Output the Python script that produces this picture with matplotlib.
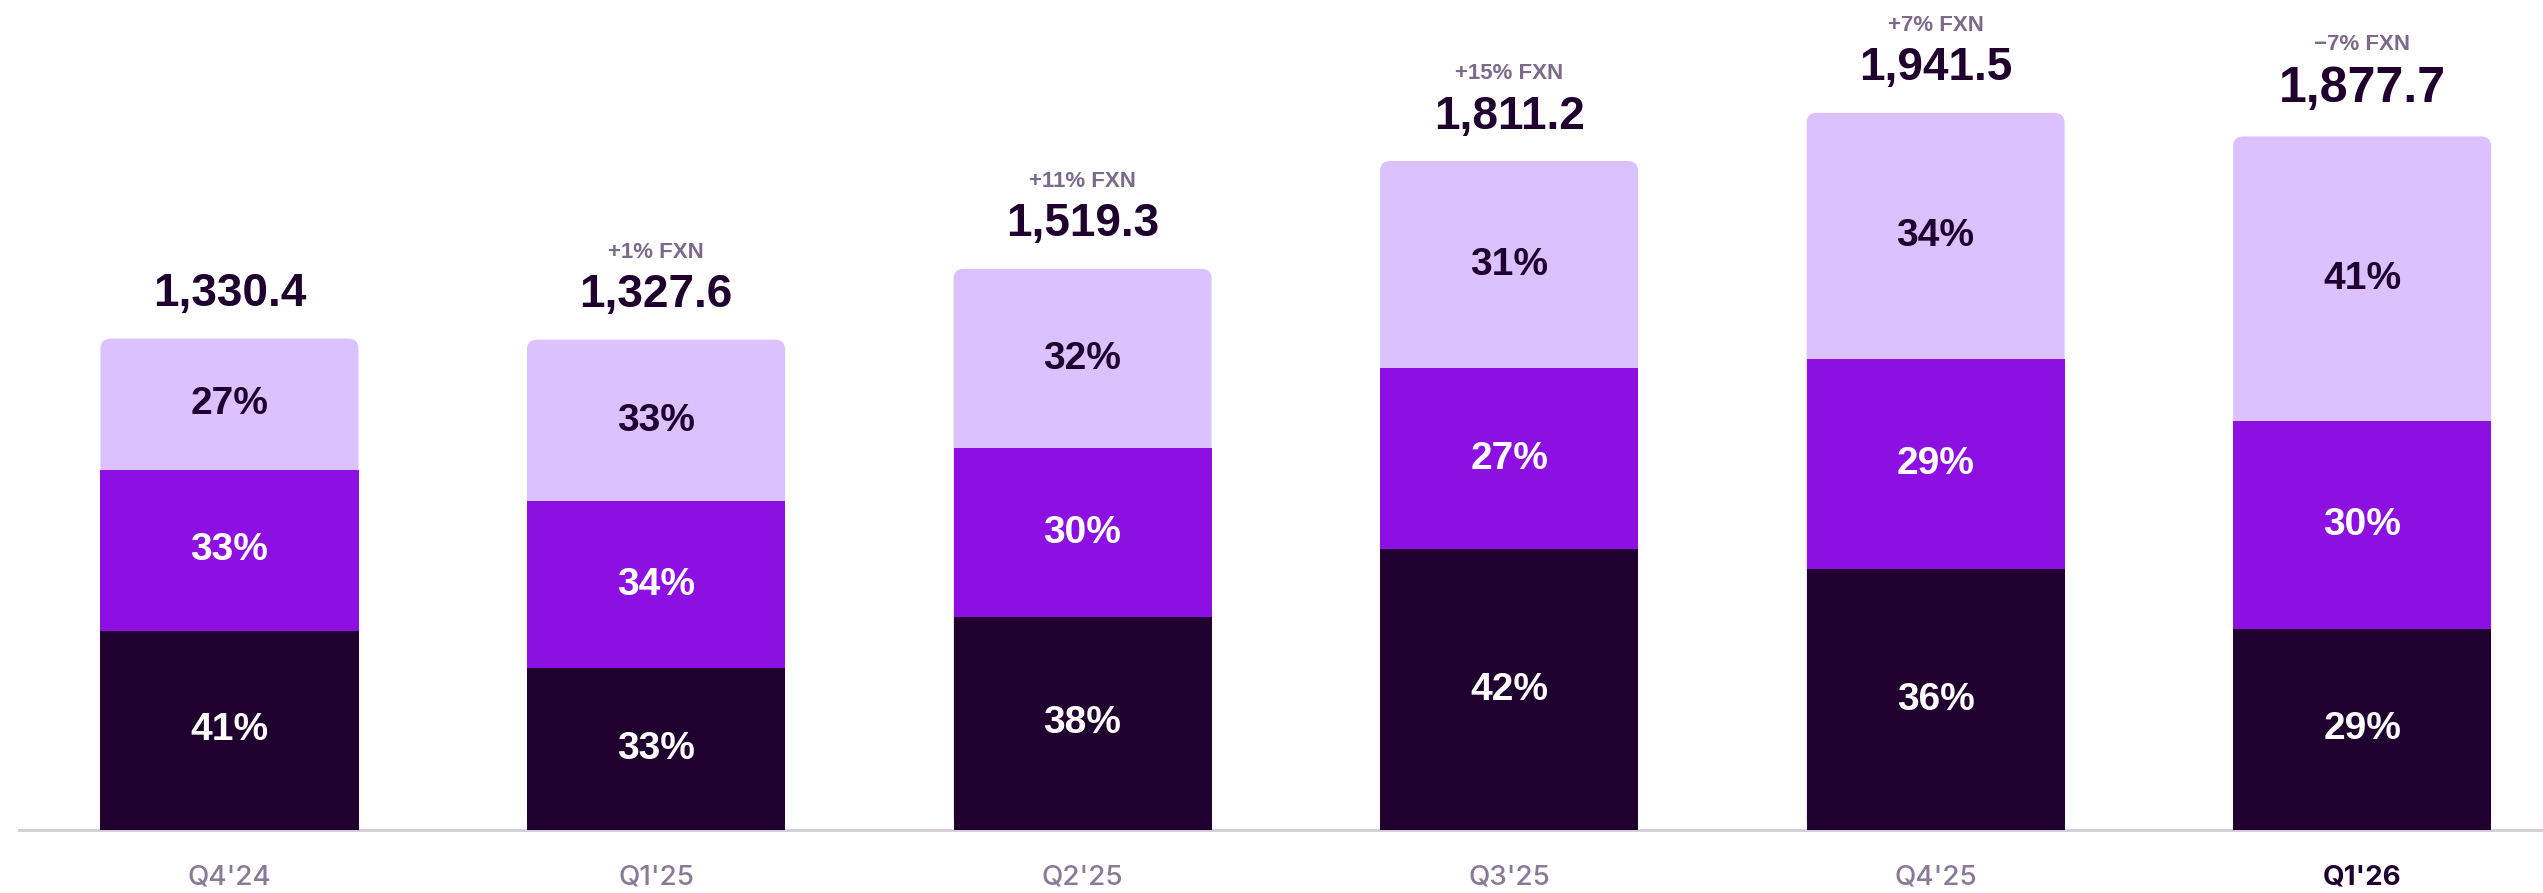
import numpy as np
import matplotlib
matplotlib.use("Agg")
import matplotlib.pyplot as plt
from matplotlib.patches import FancyBboxPatch

plt.rcParams['font.family'] = ['Inter', 'DejaVu Sans']
num_font = ['Liberation Sans', 'DejaVu Sans']

quarters = ["Q4'24", "Q1'25", "Q2'25", "Q3'25", "Q4'25", "Q1'26"]
totals = [1330.4, 1327.6, 1519.3, 1811.2, 1941.5, 1877.7]
fxn = ["", "+1% FXN", "+11% FXN", "+15% FXN", "+7% FXN", "\u22127% FXN"]
share_bottom = [41, 33, 38, 42, 36, 29]
share_middle = [33, 34, 30, 27, 29, 30]
share_top = [27, 33, 32, 31, 34, 41]

dark = '#1f002f'
mid = '#8d0fe2'
light = '#dbc2ff'
grey = '#7d6a8a'

fig = plt.figure(figsize=(25.43, 8.93), dpi=100)
ax = fig.add_axes([0, 0, 1, 1])

x = np.arange(len(quarters))
totals = np.array(totals)
sums = np.array(share_bottom) + np.array(share_middle) + np.array(share_top)
bot = totals * np.array(share_bottom) / sums
midh = totals * np.array(share_middle) / sums
toph = totals - bot - midh
w = 0.605

# rounded light box under the other two segments
rx = 0.024
ry = 27.0
for i in range(len(x)):
    p = FancyBboxPatch((x[i] - w / 2, 0), w, totals[i],
                       boxstyle="round,pad=0,rounding_size=%f" % rx,
                       mutation_aspect=ry / rx, fc=light, ec='none', zorder=1)
    ax.add_patch(p)
ax.bar(x, bot, w, color=dark, zorder=3)
ax.bar(x, midh, w, bottom=bot, color=mid, zorder=3)

for i in range(len(x)):
    ax.text(x[i], bot[i] / 2, "%d%%" % share_bottom[i], ha='center', va='center',
            color='white', fontsize=28, fontweight='bold', family=num_font,
            zorder=4)
    ax.text(x[i], bot[i] + midh[i] / 2, "%d%%" % share_middle[i], ha='center',
            va='center', color='white', fontsize=28, fontweight='bold',
            family=num_font, zorder=4)
    ax.text(x[i], bot[i] + midh[i] + toph[i] / 2, "%d%%" % share_top[i],
            ha='center', va='center', color=dark, fontsize=28, fontweight='bold',
            family=num_font, zorder=4)
    last = i == len(x) - 1
    ax.annotate("{:,.1f}".format(totals[i]), (x[i], totals[i]),
                xytext=(0, 34 if last else 32), textcoords='offset points',
                ha='center', va='center', color=dark,
                fontsize=36 if last else 33, fontweight='bold', family=num_font)
    if fxn[i]:
        ax.annotate(fxn[i], (x[i], totals[i]), xytext=(0, 66 if last else 63),
                    textcoords='offset points', ha='center', va='center',
                    color=grey, fontsize=16, fontweight='bold', family=num_font)
    ax.text(x[i], -128, quarters[i], ha='center', va='center',
            color=dark if last else '#8a7a98', fontsize=20,
            fontweight='bold' if last else 'medium')

ax.plot([-0.494, 5.5], [0, 0], color='#d2cbd8', lw=2, zorder=2)

ax.set_xlim(-0.538, 5.424)
ax.set_ylim(-170.5, 2247)
ax.axis('off')

fig.savefig('out.png', dpi=100)
